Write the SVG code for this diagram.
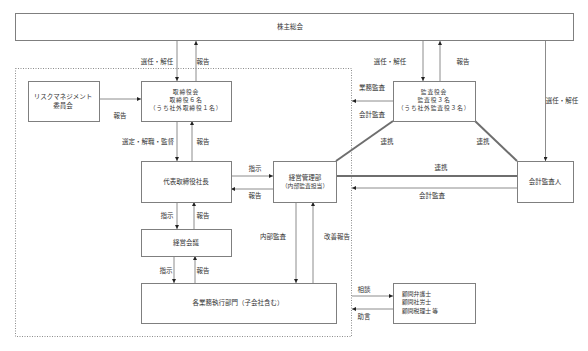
<svg xmlns="http://www.w3.org/2000/svg" width="588" height="351" viewBox="0 0 588 351">
<style>
.box{fill:#fff;stroke:#7f7f7f;stroke-width:1}
.ln{stroke:#8c8c8c;stroke-width:1;fill:none}
.thick{stroke:#6e6e6e;stroke-width:2;fill:none}
.dot{fill:none;stroke:#8c8c8c;stroke-width:1;stroke-dasharray:1,1.5}
text{font-family:"Noto Sans CJK JP","Noto Sans CJK SC",sans-serif;font-size:6.5px;fill:#333;text-anchor:middle;dominant-baseline:middle}
.s{font-size:5.8px}
.l{text-anchor:start}
.sp{letter-spacing:0.8px}
</style>
<defs>
<marker id="ah" viewBox="0 0 6 6" refX="6" refY="3" markerWidth="4" markerHeight="4" orient="auto" markerUnits="userSpaceOnUse">
<path d="M0,0L6,3L0,6z" fill="#222"/>
</marker>
</defs>
<rect class="dot" x="15.5" y="68.5" width="336" height="268"/>
<g id="connectors">
<line class="ln" x1="177" y1="41" x2="177" y2="81" marker-end="url(#ah)"/>
<line class="ln" x1="196" y1="81" x2="196" y2="41" marker-end="url(#ah)"/>
<line class="ln" x1="99" y1="99" x2="141" y2="99" marker-end="url(#ah)"/>
<line class="ln" x1="177" y1="121" x2="177" y2="161" marker-end="url(#ah)"/>
<line class="ln" x1="192" y1="161" x2="192" y2="121" marker-end="url(#ah)"/>
<line class="ln" x1="231" y1="176" x2="273" y2="176" marker-end="url(#ah)"/>
<line class="ln" x1="273" y1="189" x2="231" y2="189" marker-end="url(#ah)"/>
<line class="ln" x1="177" y1="202" x2="177" y2="229" marker-end="url(#ah)"/>
<line class="ln" x1="194" y1="229" x2="194" y2="202" marker-end="url(#ah)"/>
<line class="ln" x1="174" y1="256" x2="174" y2="283" marker-end="url(#ah)"/>
<line class="ln" x1="195" y1="283" x2="195" y2="256" marker-end="url(#ah)"/>
<line class="ln" x1="296" y1="202" x2="296" y2="283" marker-end="url(#ah)"/>
<line class="ln" x1="313" y1="283" x2="313" y2="202" marker-end="url(#ah)"/>
<line class="ln" x1="423" y1="41" x2="423" y2="81" marker-end="url(#ah)"/>
<line class="ln" x1="440" y1="81" x2="440" y2="41" marker-end="url(#ah)"/>
<line class="ln" x1="393" y1="101" x2="352" y2="101" marker-end="url(#ah)"/>
<line class="ln" x1="545.5" y1="41" x2="545.5" y2="161" marker-end="url(#ah)"/>
<line class="ln" x1="517" y1="188" x2="352" y2="188" marker-end="url(#ah)"/>
<line class="ln" x1="352" y1="296" x2="393" y2="296" marker-end="url(#ah)"/>
<line class="ln" x1="393" y1="309" x2="352" y2="309" marker-end="url(#ah)"/>
<line class="thick" x1="393" y1="121" x2="336" y2="161"/>
<line class="thick" x1="475" y1="121" x2="517" y2="161"/>
<line class="thick" x1="336" y1="176" x2="517" y2="176"/>
</g>
<g id="labels">
<text x="157" y="62">選任・解任</text>
<text x="203" y="62">報告</text>
<text x="120" y="116">報告</text>
<text x="148" y="142">選定・解職・監督</text>
<text x="203" y="142">報告</text>
<text x="255" y="169">指示</text>
<text x="255" y="196">報告</text>
<text x="167" y="216">指示</text>
<text x="203" y="216">報告</text>
<text x="166" y="271">指示</text>
<text x="203" y="271">報告</text>
<text x="273" y="237">内部監査</text>
<text x="337" y="237">改善報告</text>
<text x="390" y="62">選任・解任</text>
<text x="463" y="62">報告</text>
<text x="372" y="88">業務監査</text>
<text x="372" y="115">会計監査</text>
<text x="387" y="142">連携</text>
<text x="483" y="142">連携</text>
<text x="441" y="168">連携</text>
<text x="432" y="196">会計監査</text>
<text x="562" y="101">選任・解任</text>
<text x="364" y="290">相談</text>
<text x="364" y="317">助言</text>
</g>
<g id="shareholders"><rect class="box" x="15.5" y="13.5" width="558" height="27"/><text x="290" y="27">株主総会</text></g>
<g id="risk"><rect class="box" x="28.5" y="81.5" width="71" height="40"/><text x="63" y="97">リスクマネジメント</text><text x="63" y="106">委員会</text></g>
<g id="board"><rect class="box" x="141.5" y="81.5" width="90" height="40"/><text class="s sp" x="186" y="92">取締役会</text><text class="s sp" x="186" y="100">取締役６名</text><text class="s sp" x="186" y="108.5">（うち社外取締役１名）</text></g>
<g id="ceo"><rect class="box" x="141.5" y="161.5" width="90" height="41"/><text x="186" y="182">代表取締役社長</text></g>
<g id="mgmt"><rect class="box" x="273.5" y="161.5" width="63" height="41"/><text x="305" y="178">経営管理部</text><text class="s" x="305" y="186.5">（内部監査担当）</text></g>
<g id="meeting"><rect class="box" x="141.5" y="229.5" width="90" height="27"/><text x="186" y="243">経営会議</text></g>
<g id="depts"><rect class="box" x="141.5" y="283.5" width="195" height="40"/><text x="238" y="303">各業務執行部門（子会社含む）</text></g>
<g id="audit"><rect class="box" x="393.5" y="81.5" width="82" height="40"/><text class="s sp" x="434" y="92">監査役会</text><text class="s sp" x="434" y="100">監査役３名</text><text class="s sp" x="434" y="108.5">（うち社外監査役３名）</text></g>
<g id="auditor"><rect class="box" x="517.5" y="161.5" width="56" height="41"/><text x="545" y="182">会計監査人</text></g>
<g id="advisors"><rect class="box" x="393.5" y="283.5" width="82" height="40"/><text class="s l" x="402" y="294">顧問弁護士</text><text class="s l" x="402" y="302.5">顧問社労士</text><text class="s l" x="402" y="311">顧問税理士 等</text></g>
</svg>
